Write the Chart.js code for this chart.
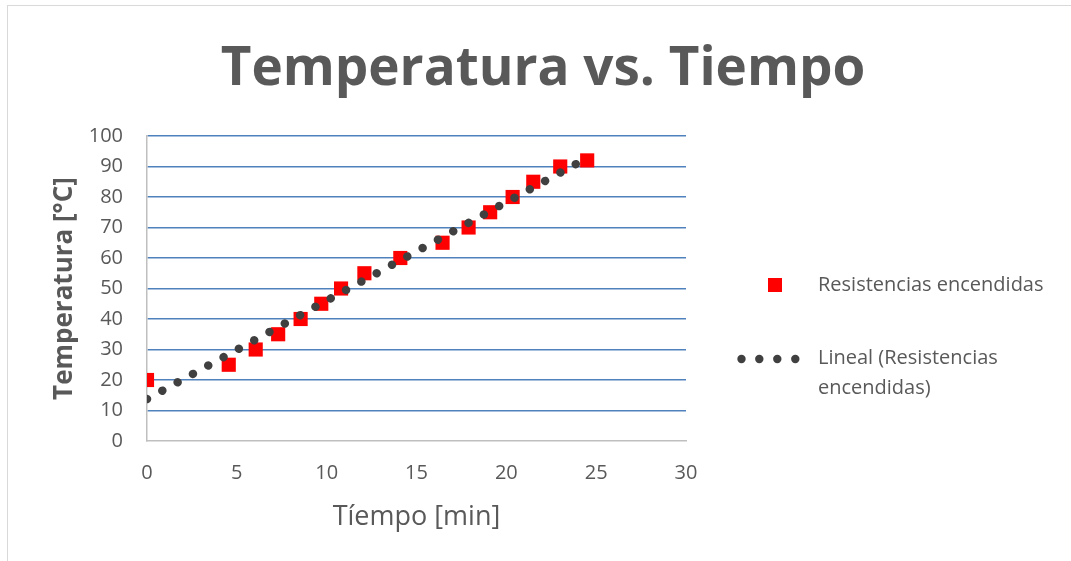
<!DOCTYPE html>
<html>
<head>
<meta charset="utf-8">
<script src="https://cdn.jsdelivr.net/npm/chart.js@4/dist/chart.umd.min.js"></script>
<style>
  html, body { margin: 0; padding: 0; background: #ffffff; }
  #wrap { position: relative; width: 1071px; height: 561px; overflow: hidden; background: #ffffff; }
  #frame { position: absolute; left: 7px; top: 5px; width: 1200px; height: 700px;
           border-left: 1px solid #d9d9d9; border-top: 1px solid #d9d9d9; }
  canvas { position: absolute; left: 0; top: 0; }
</style>
</head>
<body>
<div id="wrap"><div id="frame"></div><canvas id="c" width="1071" height="561"></canvas></div>
<script>
// ---- data ----
const timeMin = [0, 4.55, 6.05, 7.3, 8.55, 9.7, 10.8, 12.1, 14.1, 16.45, 17.9, 19.1, 20.35, 21.5, 23.0, 24.5];
const tempC   = [20, 25, 30, 35, 40, 45, 50, 55, 60, 65, 70, 75, 80, 85, 90, 92];
const xTickValues = [0, 5, 10, 15, 20, 25, 30];
const yTickValues = [0, 10, 20, 30, 40, 50, 60, 70, 80, 90, 100];
const seriesName = 'Resistencias encendidas';
const trendName = ['Lineal (Resistencias', 'encendidas)'];
const chartTitle = 'Temperatura vs. Tiempo';
const xTitle = 'Tíempo [min]';
const yTitle = 'Temperatura [°C]';

// linear trend line (least squares, as the spreadsheet trendline)
const n = timeMin.length;
const mx = timeMin.reduce((a, b) => a + b, 0) / n;
const my = tempC.reduce((a, b) => a + b, 0) / n;
let sxy = 0, sxx = 0;
for (let i = 0; i < n; i++) { sxy += (timeMin[i] - mx) * (tempC[i] - my); sxx += (timeMin[i] - mx) ** 2; }
const slope = sxy / sxx, intercept = my - slope * mx;
const xMin = Math.min(...timeMin), xMax = Math.max(...timeMin);
const trendPts = [{ x: xMin, y: intercept + slope * xMin }, { x: xMax, y: intercept + slope * xMax }];

const FONT = '"Open Sans", "DejaVu Sans", sans-serif';
const TXT = '#595959';

// custom legend occupying the right side as a layout box
const legendBox = {
  position: 'right', weight: 0, fullSize: false, options: {},
  left: 0, top: 0, right: 0, bottom: 0, width: 0, height: 0,
  isHorizontal() { return false; },
  update(maxW, maxH) { this.width = 385; this.height = maxH; return this; },
  draw() {
    const ctx = this.chart.ctx;
    const L = this.left;
    ctx.save();
    ctx.font = '20px ' + FONT;
    ctx.textBaseline = 'middle';
    ctx.textAlign = 'left';
    // series marker
    ctx.fillStyle = '#ff0000';
    ctx.fillRect(L + 82, 278, 14, 14);
    ctx.fillStyle = TXT;
    ctx.fillText(seriesName, L + 132, 285);
    // trend marker: dotted
    ctx.fillStyle = '#404040';
    [55.5, 73.3, 91.3, 109.3].forEach(dx => { ctx.beginPath(); ctx.arc(L + dx, 359, 4.2, 0, Math.PI * 2); ctx.fill(); });
    ctx.fillStyle = TXT;
    ctx.fillText(trendName[0], L + 132, 358);
    ctx.fillText(trendName[1], L + 132, 388);
    ctx.restore();
  }
};
const legendPlugin = {
  id: 'sideLegend',
  beforeInit(chart) { legendBox.chart = chart; Chart.layouts.addBox(chart, legendBox); }
};

new Chart(document.getElementById('c'), {
  type: 'scatter',
  data: {
    datasets: [
      {
        label: trendName.join(' '),
        type: 'line',
        data: trendPts,
        borderColor: '#404040',
        borderWidth: 8.5,
        borderDash: [0.01, 17.45],
        borderCapStyle: 'round',
        pointRadius: 0,
        fill: false,
        order: 0
      },
      {
        label: seriesName,
        data: timeMin.map((t, i) => ({ x: t, y: tempC[i] })),
        pointStyle: 'rect',
        pointRadius: 10,
        pointHoverRadius: 10,
        backgroundColor: '#ff0000',
        borderWidth: 0,
        order: 1
      }
    ]
  },
  plugins: [legendPlugin],
  options: {
    responsive: false,
    animation: false,
    layout: { padding: { left: 15, right: 0, top: 0, bottom: 0 } },
    plugins: {
      legend: { display: false },
      tooltip: { enabled: false },
      title: {
        display: true, text: chartTitle, color: TXT,
        font: { family: FONT, size: 53, weight: 'bold', lineHeight: 1.2 },
        padding: { top: 38, bottom: 34.4 }
      }
    },
    scales: {
      x: {
        type: 'linear', min: 0, max: 30,
        afterBuildTicks: s => { s.ticks = xTickValues.map(v => ({ value: v })); },
        afterFit: s => { s.height = 120; },
        grid: { display: false, drawTicks: false },
        border: { display: true, color: '#bfbfbf', width: 1.5 },
        ticks: { color: TXT, font: { family: FONT, size: 20 }, padding: 20, maxRotation: 0 },
        title: { display: true, text: xTitle, color: TXT, font: { family: FONT, size: 27 }, padding: { top: 0, bottom: 27 } }
      },
      y: {
        type: 'linear', min: 0, max: 100,
        afterBuildTicks: s => { s.ticks = yTickValues.map(v => ({ value: v })); },
        afterFit: s => { s.width = 132; },
        grid: { color: c => (c.tick && c.tick.value === 0 ? 'rgba(0,0,0,0)' : '#4f81bd'), lineWidth: 1.6, drawTicks: false },
        border: { display: true, color: '#bfbfbf', width: 1.5 },
        ticks: { color: TXT, font: { family: FONT, size: 20 }, padding: 24 },
        title: { display: true, text: yTitle, color: TXT, font: { family: FONT, size: 26, weight: 'bold' }, padding: { top: 34, bottom: 0 } }
      }
    }
  }
});
</script>
</body>
</html>
